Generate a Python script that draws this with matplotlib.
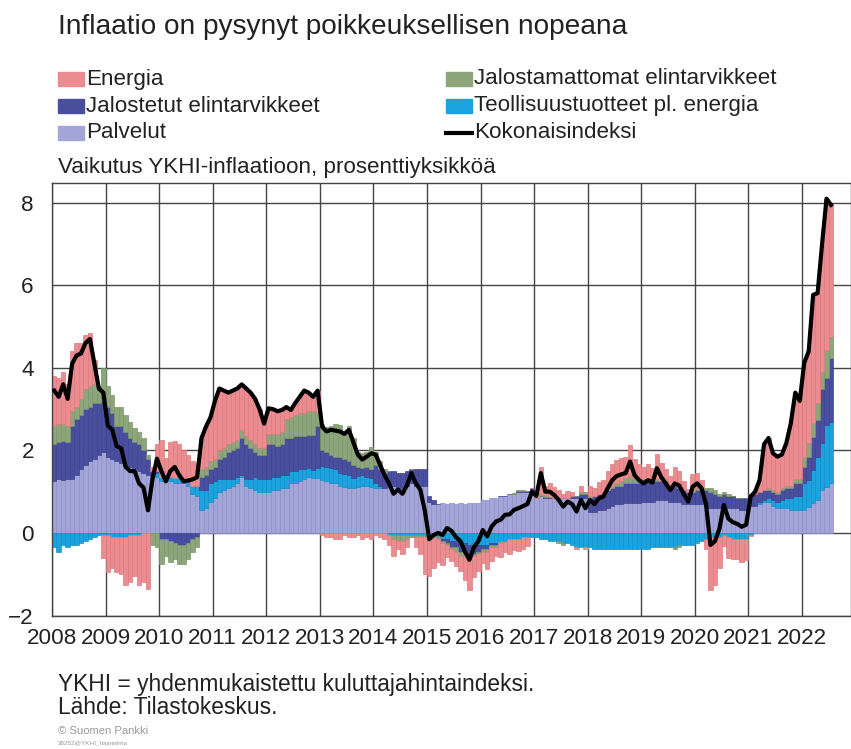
import numpy as np
import matplotlib
matplotlib.use('Agg')
import matplotlib.pyplot as plt
from matplotlib.patches import Rectangle
from matplotlib.lines import Line2D

plt.rcParams['font.family'] = ['Liberation Sans', 'DejaVu Sans']

# monthly contributions, Jan 2008 - Jul 2022 (percentage points)
energia = [
    1.2, 1.1, 1.27, 1.0, 1.45, 1.55, 1.35, 1.3, 1.3, 0.6, 0.0, -0.55,
    -0.9, -0.75, -0.85, -0.9, -1.15, -1.15, -1.0, -1.2, -1.2, -1.35, 0.1, 0.65,
    0.9, 0.45, 0.85, 0.9, 0.8, 0.7, 0.65, 0.6, 0.55, 0.75, 0.98, 1.05,
    1.4, 1.5, 1.4, 1.25, 1.25, 1.25, 1.1, 1.15, 1.15, 1.1, 0.95, 0.6,
    0.62, 0.6, 0.55, 0.53, 0.3, 0.18, 0.3, 0.4, 0.55, 0.45, 0.35, 0.52,
    -0.05, -0.1, -0.1, -0.15, -0.15, -0.05, -0.1, -0.1, -0.05, -0.15, -0.1, -0.15,
    -0.05, -0.1, -0.15, -0.25, -0.4, -0.2, -0.3, -0.2, 0.0, -0.25, -0.4, -0.9,
    -0.95, -0.75, -0.55, -0.52, -0.28, -0.27, -0.35, -0.37, -0.6, -0.82, -0.52, -0.42,
    -0.28, -0.43, -0.36, -0.24, -0.33, -0.24, -0.35, -0.26, -0.29, -0.29, -0.22, 0.0,
    0.15, 0.65, 0.23, 0.33, 0.27, 0.2, 0.09, 0.16, 0.1, -0.03, 0.15, -0.05,
    0.25, 0.2, 0.29, 0.33, 0.44, 0.53, 0.58, 0.57, 0.53, 0.76, 0.48, 0.41,
    0.3, 0.38, 0.27, 0.62, 0.45, 0.3, 0.24, 0.45, 0.4, 0.2, 0.06, 0.37,
    0.35, 0.19, -0.25, -1.29, -1.15, -0.75, -0.27, -0.5, -0.49, -0.48, -0.55, -0.5,
    -0.02, 0.05, 0.28, 1.1, 1.2, 0.88, 0.85, 0.8, 1.03, 1.51, 2.1, 1.9,
    2.27, 2.23, 3.11, 2.67, 3.1, 3.67, 3.19,
]
jalostamattomat = [
    0.45, 0.45, 0.4, 0.4, 0.35, 0.3, 0.4, 0.5, 0.5, 0.45, 0.4, 0.8,
    0.5, 0.45, 0.45, 0.45, 0.4, 0.4, 0.35, 0.3, 0.3, 0.1, -0.3, -0.35,
    -0.6, -0.42, -0.5, -0.37, -0.45, -0.45, -0.38, -0.3, -0.25, 0.2, 0.2, 0.2,
    0.2, 0.2, 0.2, 0.2, 0.2, 0.2, 0.2, 0.2, 0.2, 0.2, 0.15, 0.15,
    0.25, 0.25, 0.3, 0.3, 0.45, 0.5, 0.5, 0.55, 0.55, 0.58, 0.58, 0.35,
    0.63, 0.61, 0.7, 0.78, 0.76, 0.65, 0.85, 0.65, 0.35, 0.36, 0.35, 0.53,
    0.3, 0.2, 0.1, 0.0, -0.1, -0.15, -0.15, -0.1, -0.05, -0.05, -0.05, -0.05,
    -0.05, -0.05, -0.05, -0.05, -0.05, -0.05, -0.1, -0.1, -0.1, -0.05, -0.05, -0.05,
    -0.05, -0.05, -0.03, -0.03, -0.05, -0.02, 0.0, 0.02, 0.02, 0.02, 0.0, 0.0,
    0.0, 0.05, 0.05, 0.0, 0.0, -0.05, -0.05, 0.0, 0.0, 0.0, 0.05, 0.05,
    0.05, 0.0, 0.0, 0.0, 0.0, 0.05, 0.05, 0.1, 0.1, 0.15, 0.1, 0.05,
    0.05, 0.05, 0.05, 0.05, 0.0, 0.0, 0.0, -0.05, -0.05, 0.0, 0.0, 0.05,
    0.05, 0.05, 0.05, 0.1, 0.1, 0.05, 0.05, 0.05, 0.0, 0.0, 0.0, 0.0,
    0.0, 0.0, 0.0, 0.0, 0.05, 0.05, 0.05, 0.05, 0.05, 0.05, 0.1, 0.1,
    0.25, 0.32, 0.33, 0.4, 0.4, 0.68, 0.53,
]
jalostetut = [
    0.9, 0.9, 0.95, 0.9, 1.3, 1.35, 1.3, 1.35, 1.3, 1.35, 1.25, 1.25,
    1.2, 1.1, 0.85, 0.9, 0.8, 0.7, 0.65, 0.65, 0.55, 0.4, 0.1, 0.05,
    -0.15, -0.15, -0.2, -0.25, -0.3, -0.3, -0.25, -0.15, -0.1, 0.3, 0.35, 0.35,
    0.35, 0.5, 0.55, 0.65, 0.7, 0.7, 0.9, 0.85, 0.75, 0.6, 0.6, 0.6,
    0.85, 0.8, 0.75, 0.75, 0.9, 0.8, 0.85, 0.8, 0.8, 0.8, 0.84, 1.0,
    0.37, 0.35, 0.33, 0.3, 0.4, 0.38, 0.35, 0.32, 0.23, 0.17, 0.25, 0.23,
    0.45, 0.4, 0.35, 0.35, 0.35, 0.35, 0.35, 0.35, 0.35, 0.4, 0.4, 0.4,
    0.15, 0.1, 0.0, -0.05, -0.1, -0.15, -0.15, -0.2, -0.2, -0.2, -0.2, -0.15,
    -0.1, -0.1, -0.05, -0.05, 0.0, 0.0, 0.0, 0.0, 0.02, 0.02, 0.02, 0.05,
    0.0, 0.0, 0.02, 0.02, 0.0, 0.0, 0.0, 0.0, 0.05, 0.05, 0.1, 0.1,
    0.35, 0.4, 0.4, 0.4, 0.45, 0.45, 0.45, 0.45, 0.5, 0.5, 0.5, 0.5,
    0.5, 0.5, 0.5, 0.45, 0.45, 0.45, 0.4, 0.4, 0.35, 0.35, 0.3, 0.3,
    0.35, 0.35, 0.35, 0.4, 0.35, 0.3, 0.35, 0.3, 0.3, 0.25, 0.3, 0.3,
    0.3, 0.3, 0.25, 0.25, 0.2, 0.2, 0.2, 0.25, 0.25, 0.25, 0.3, 0.3,
    0.4, 0.57, 0.8, 0.89, 1.33, 1.13, 1.53,
]
teollisuus = [
    -0.35, -0.45, -0.3, -0.35, -0.3, -0.3, -0.25, -0.2, -0.15, -0.1, -0.05, -0.05,
    -0.05, -0.1, -0.1, -0.1, -0.1, -0.05, -0.05, -0.05, 0.0, 0.0, 0.05, 0.1,
    0.1, 0.12, 0.1, 0.1, 0.15, 0.1, 0.1, 0.2, 0.25, 0.5, 0.45, 0.45,
    0.4, 0.3, 0.25, 0.2, 0.15, 0.15, 0.05, 0.15, 0.2, 0.3, 0.3, 0.3,
    0.3, 0.3, 0.3, 0.3, 0.3, 0.3, 0.3, 0.3, 0.25, 0.22, 0.2, 0.25,
    0.35, 0.35, 0.35, 0.35, 0.3, 0.3, 0.3, 0.25, 0.25, 0.25, 0.2, 0.2,
    0.1, 0.05, 0.0, -0.05, -0.05, -0.05, -0.05, -0.05, -0.05, -0.05, -0.05, -0.05,
    -0.05, -0.05, -0.1, -0.15, -0.15, -0.2, -0.2, -0.25, -0.25, -0.3, -0.3, -0.3,
    -0.3, -0.3, -0.25, -0.25, -0.2, -0.2, -0.15, -0.15, -0.15, -0.1, -0.1, -0.1,
    -0.1, -0.15, -0.15, -0.2, -0.2, -0.2, -0.25, -0.25, -0.3, -0.35, -0.35, -0.35,
    -0.35, -0.4, -0.4, -0.4, -0.4, -0.4, -0.4, -0.4, -0.4, -0.4, -0.4, -0.4,
    -0.4, -0.4, -0.35, -0.35, -0.35, -0.35, -0.35, -0.35, -0.3, -0.3, -0.3, -0.3,
    -0.25, -0.2, -0.15, -0.1, -0.1, -0.1, -0.05, -0.1, -0.15, -0.15, -0.15, -0.15,
    -0.05, 0.0, 0.05, 0.05, 0.1, 0.15, 0.15, 0.2, 0.25, 0.3, 0.35, 0.35,
    0.64, 0.64, 0.81, 1.05, 1.13, 1.5, 1.5,
]
palvelut = [
    1.25, 1.3, 1.28, 1.3, 1.3, 1.4, 1.55, 1.65, 1.75, 1.8, 1.9, 1.95,
    1.85, 1.8, 1.75, 1.7, 1.65, 1.6, 1.55, 1.5, 1.45, 1.4, 1.35, 1.35,
    1.25, 1.25, 1.25, 1.22, 1.2, 1.2, 1.15, 0.95, 0.9, 0.55, 0.6, 0.75,
    0.85, 1.0, 1.05, 1.1, 1.15, 1.2, 1.35, 1.15, 1.1, 1.05, 1.0, 1.0,
    1.0, 1.05, 1.05, 1.1, 1.1, 1.2, 1.2, 1.25, 1.3, 1.35, 1.33, 1.33,
    1.28, 1.25, 1.22, 1.2, 1.15, 1.12, 1.1, 1.08, 1.12, 1.15, 1.15, 1.12,
    1.1, 1.1, 1.1, 1.15, 1.15, 1.1, 1.1, 1.15, 1.2, 1.15, 1.15, 1.15,
    0.75, 0.7, 0.7, 0.72, 0.7, 0.72, 0.7, 0.72, 0.7, 0.72, 0.72, 0.72,
    0.8, 0.8, 0.85, 0.85, 0.9, 0.9, 0.95, 0.95, 1.0, 1.0, 1.0, 1.05,
    0.85, 0.9, 0.85, 0.85, 0.85, 0.85, 0.85, 0.85, 0.85, 0.85, 0.85, 0.85,
    0.5, 0.5, 0.55, 0.55, 0.6, 0.65, 0.7, 0.7, 0.72, 0.72, 0.72, 0.72,
    0.75, 0.75, 0.75, 0.8, 0.8, 0.8, 0.75, 0.75, 0.75, 0.7, 0.7, 0.7,
    0.7, 0.7, 0.7, 0.6, 0.6, 0.6, 0.6, 0.6, 0.6, 0.6, 0.55, 0.55,
    0.65, 0.65, 0.7, 0.75, 0.75, 0.65, 0.6, 0.6, 0.6, 0.55, 0.55, 0.55,
    0.56, 0.64, 0.72, 0.8, 1.04, 1.12, 1.2,
]
kokonaisindeksi = [
    3.45, 3.3, 3.6, 3.25, 4.1, 4.3, 4.35, 4.6, 4.7, 4.1, 3.5, 3.4,
    2.6, 2.5, 2.1, 2.05, 1.6, 1.5, 1.5, 1.2, 1.1, 0.55, 1.3, 1.8,
    1.5, 1.25, 1.5, 1.6, 1.4, 1.25, 1.27, 1.3, 1.35, 2.3, 2.58, 2.8,
    3.2, 3.5, 3.45, 3.4, 3.45, 3.5, 3.6, 3.5, 3.4, 3.25, 3.0, 2.65,
    3.02, 3.0, 2.95, 2.98, 3.05, 2.98, 3.15, 3.3, 3.45, 3.4, 3.3, 3.45,
    2.58, 2.46, 2.5, 2.48, 2.46, 2.4, 2.5, 2.2, 1.9, 1.78, 1.85, 1.93,
    1.9, 1.65, 1.4, 1.2, 0.95, 1.05, 0.95, 1.15, 1.45, 1.2, 1.05, 0.55,
    -0.15, -0.05, 0.0, -0.05, 0.12, 0.05, -0.1, -0.2, -0.45, -0.65, -0.35, -0.2,
    0.07, -0.08, 0.16, 0.28, 0.32, 0.44, 0.45, 0.56, 0.6, 0.65, 0.7, 1.0,
    0.9, 1.45, 1.0, 1.0, 0.92, 0.8, 0.64, 0.76, 0.7, 0.52, 0.8, 0.6,
    0.8, 0.7, 0.84, 0.88, 1.09, 1.28, 1.38, 1.42, 1.45, 1.73, 1.4, 1.28,
    1.2, 1.28, 1.22, 1.57, 1.35, 1.2, 1.04, 1.2, 1.15, 0.95, 0.76, 1.12,
    1.2, 1.09, 0.7, -0.29, -0.2, 0.1, 0.68, 0.35, 0.26, 0.22, 0.15, 0.2,
    0.88, 1.0, 1.28, 2.15, 2.3, 1.93, 1.85, 1.9, 2.18, 2.66, 3.4, 3.2,
    4.12, 4.4, 5.77, 5.81, 7.0, 8.1, 7.95,
]
years = list(range(2008, 2023))

W, H = 851, 749
fig = plt.figure(figsize=(W / 100, H / 100), dpi=100)

def fx(px):
    return px / W

def fy(py):
    return 1 - py / H

ax = fig.add_axes([fx(52), fy(615.5), fx(851) - fx(52), fy(183) - fy(615.5)])

n = len(kokonaisindeksi)
x = 2008 + (np.arange(n) + 0.5) / 12

series = [
    ('Palvelut', palvelut, '#A3A5D8', '#8E90C6'),
    ('Teollisuustuotteet pl. energia', teollisuus, '#1AA3DF', '#1590C6'),
    ('Jalostetut elintarvikkeet', jalostetut, '#4A4E9E', '#3E4290'),
    ('Jalostamattomat elintarvikkeet', jalostamattomat, '#8CA57A', '#7B946A'),
    ('Energia', energia, '#EC8C90', '#D87C80'),
]
pos = np.zeros(n)
neg = np.zeros(n)
colors = {}
for name, vals, col, ec in series:
    v = np.array(vals)
    bottom = np.where(v >= 0, pos, neg)
    ax.bar(x, v, width=1 / 12, bottom=bottom, color=col, edgecolor=ec,
           linewidth=0.5, zorder=2)
    pos = pos + np.where(v >= 0, v, 0)
    neg = neg + np.where(v < 0, v, 0)
    colors[name] = col

ax.plot(x, kokonaisindeksi, color='black', lw=3, zorder=3)

ax.set_xlim(2008, 2008 + 799 / 53.57)
ax.set_ylim(-2, 8.48)
ax.set_xticks(years)
ax.set_yticks([-2, 0, 2, 4, 6, 8])
ax.set_yticklabels(['\u22122', '0', '2', '4', '6', '8'])
ax.grid(True, color='#444444', lw=1.0, zorder=0)
ax.set_axisbelow(True)
for s in ax.spines.values():
    s.set_color('#444444')
    s.set_linewidth(1.0)
ax.tick_params(length=0)

r = fig.canvas.get_renderer()

def fit_size(text, width_px, start=16):
    t = fig.text(0, 0, text, fontsize=start)
    w = t.get_window_extent(r).width
    t.remove()
    return start * width_px / w

tick_fs = fit_size('2008', 50)
ax.set_xticklabels([str(y) for y in years], fontsize=tick_fs, color='#222222')
ax.tick_params(axis='x', pad=9)
ax.tick_params(axis='y', pad=13)
for lab in ax.get_yticklabels():
    lab.set_fontsize(tick_fs)
    lab.set_color('#222222')

# title and texts
title_fs = fit_size('Inflaatio on pysynyt poikkeuksellisen nopeana', 570)
fig.text(fx(58), fy(27), 'Inflaatio on pysynyt poikkeuksellisen nopeana',
         fontsize=title_fs, va='center', color='#222222')
leg_fs = fit_size('Jalostamattomat elintarvikkeet', 302)
fig.text(fx(58), fy(168), 'Vaikutus YKHI-inflaatioon, prosenttiyksikköä',
         fontsize=leg_fs, va='center', color='#222222')
note_fs = fit_size('YKHI = yhdenmukaistettu kuluttajahintaindeksi.', 478)
fig.text(fx(58), fy(685), 'YKHI = yhdenmukaistettu kuluttajahintaindeksi.',
         fontsize=note_fs, va='center', color='#222222')
fig.text(fx(58), fy(707), 'Lähde: Tilastokeskus.',
         fontsize=note_fs, va='center', color='#222222')
fig.text(fx(58), fy(731), '© Suomen Pankki',
         fontsize=fit_size('© Suomen Pankki', 90), va='center', color='#999999')
fig.text(fx(58), fy(743), '38252@YKHI_hajotelma',
         fontsize=fit_size('38252@YKHI_hajotelma', 70), va='center',
         color='#999999')

# legend
legend_items = [
    ('Energia', 58, 79, 'bar'),
    ('Jalostetut elintarvikkeet', 58, 106, 'bar'),
    ('Palvelut', 58, 133, 'bar'),
    ('Jalostamattomat elintarvikkeet', 446, 79, 'bar'),
    ('Teollisuustuotteet pl. energia', 446, 106, 'bar'),
    ('Kokonaisindeksi', 446, 133, 'line'),
]
for name, px, py, kind in legend_items:
    if kind == 'bar':
        fig.patches.append(Rectangle((fx(px), fy(py + 7)), fx(26), 14 / H,
                                     transform=fig.transFigure,
                                     color=colors[name]))
    else:
        fig.lines.append(Line2D([fx(px), fx(px + 26)], [fy(py), fy(py)],
                                transform=fig.transFigure, color='black', lw=3))
    fig.text(fx(px + 28), fy(py), name, fontsize=leg_fs, va='center',
             color='#222222')

fig.savefig('out.png', dpi=100)
